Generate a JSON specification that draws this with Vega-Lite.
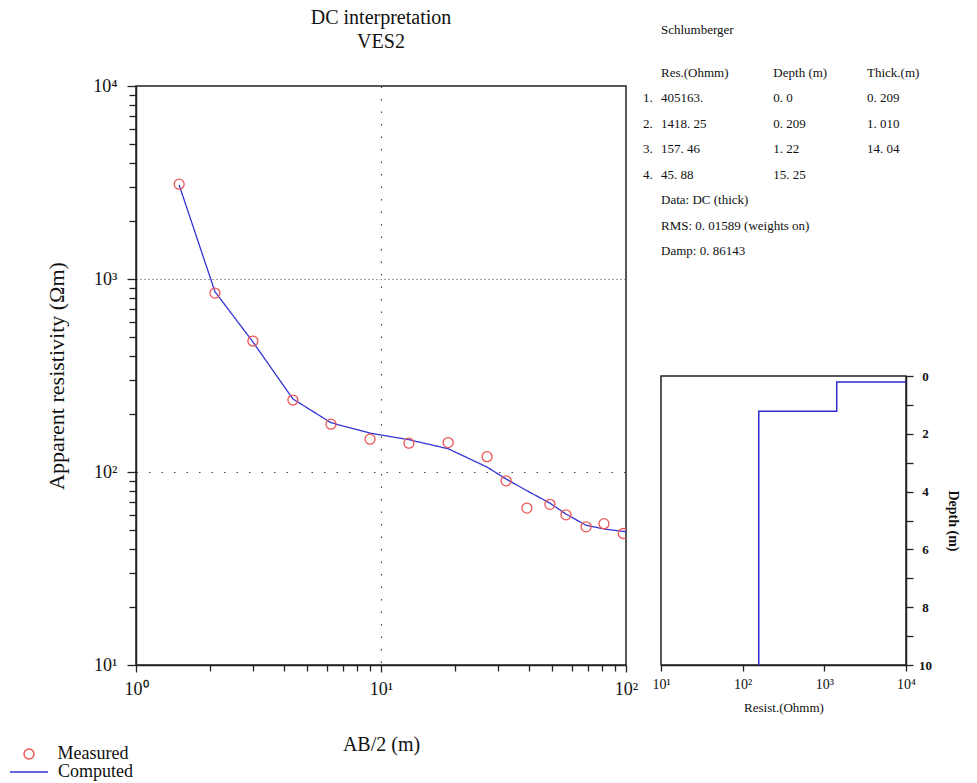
{
  "$schema": "https://vega.github.io/schema/vega-lite/v6.json",
  "padding": {"left": 8, "top": 6, "right": 0, "bottom": 0},
  "background": "white",
  "config": {
    "font": "Liberation Serif",
    "view": {"stroke": "#222", "strokeWidth": 1.5},
    "axis": {"domainColor": "#222", "domainWidth": 1.5, "tickColor": "#222", "tickWidth": 1.3, "labelColor": "#111", "titleColor": "#111", "labelFont": "Liberation Serif", "titleFont": "Liberation Serif", "titleFontWeight": "normal", "labelOverlap": false, "labelFlush": false}
  },
  "resolve": {"scale": {"shape": "independent", "strokeDash": "independent"}, "legend": {"shape": "independent", "strokeDash": "independent"}},
  "spacing": 4,
  "hconcat": [
    {
      "spacing": 22,
      "resolve": {"scale": {"shape": "independent", "strokeDash": "independent"}, "legend": {"shape": "independent", "strokeDash": "independent"}},
      "vconcat": [
        {
          "width": 490,
          "height": 48,
          "view": {"stroke": null},
          "data": {"values": [{"line": "DC interpretation"}, {"line": "VES2"}]},
          "mark": {"type": "text", "fontSize": 20, "align": "center", "baseline": "middle", "color": "#111"},
          "encoding": {
            "y": {"field": "line", "type": "nominal", "sort": null, "scale": {"type": "point", "padding": 0.5}, "axis": null},
            "text": {"field": "line"}
          }
        },
        {
          "width": 490,
          "height": 579,
          "resolve": {"scale": {"shape": "independent", "strokeDash": "independent"}, "legend": {"shape": "independent", "strokeDash": "independent"}},
          "data": {"values": [
            {"series": "Measured", "ab2": 1.5, "rho": 3100},
            {"series": "Measured", "ab2": 2.1, "rho": 845},
            {"series": "Measured", "ab2": 3.0, "rho": 477},
            {"series": "Measured", "ab2": 4.37, "rho": 236},
            {"series": "Measured", "ab2": 6.25, "rho": 177},
            {"series": "Measured", "ab2": 9.02, "rho": 148},
            {"series": "Measured", "ab2": 13.0, "rho": 141},
            {"series": "Measured", "ab2": 18.8, "rho": 142},
            {"series": "Measured", "ab2": 27.1, "rho": 120},
            {"series": "Measured", "ab2": 32.4, "rho": 90},
            {"series": "Measured", "ab2": 39.4, "rho": 65},
            {"series": "Measured", "ab2": 48.9, "rho": 68},
            {"series": "Measured", "ab2": 56.9, "rho": 60},
            {"series": "Measured", "ab2": 68.7, "rho": 52},
            {"series": "Measured", "ab2": 81.3, "rho": 54},
            {"series": "Measured", "ab2": 97.5, "rho": 48},
            {"series": "Computed", "ab2": 1.5, "rho": 3070},
            {"series": "Computed", "ab2": 2.1, "rho": 860},
            {"series": "Computed", "ab2": 3.0, "rho": 472},
            {"series": "Computed", "ab2": 4.37, "rho": 239},
            {"series": "Computed", "ab2": 6.25, "rho": 180},
            {"series": "Computed", "ab2": 9.02, "rho": 159},
            {"series": "Computed", "ab2": 13.0, "rho": 147},
            {"series": "Computed", "ab2": 18.8, "rho": 132},
            {"series": "Computed", "ab2": 27.1, "rho": 106},
            {"series": "Computed", "ab2": 32.4, "rho": 92},
            {"series": "Computed", "ab2": 39.4, "rho": 80},
            {"series": "Computed", "ab2": 48.9, "rho": 69},
            {"series": "Computed", "ab2": 56.9, "rho": 60.5},
            {"series": "Computed", "ab2": 68.7, "rho": 53},
            {"series": "Computed", "ab2": 81.3, "rho": 50.7},
            {"series": "Computed", "ab2": 100, "rho": 49}
          ]},
          "encoding": {
            "x": {
              "field": "ab2", "type": "quantitative",
              "scale": {"type": "log", "domain": [1, 100], "nice": false},
              "axis": {
                "values": [1, 2, 3, 4, 5, 6, 7, 8, 9, 10, 20, 30, 40, 50, 60, 70, 80, 90, 100],
                "labelExpr": "datum.value==1?'10⁰':datum.value==10?'10¹':datum.value==100?'10²':''",
                "title": "AB/2 (m)", "titleFontSize": 20, "titlePadding": 36,
                "labelFontSize": 18, "labelPadding": 8,
                "tickSize": {"condition": {"test": "datum.value==1||datum.value==10||datum.value==100", "value": 7}, "value": 6},
                "grid": true, "gridColor": "#444", "gridWidth": 1.2,
                "gridOpacity": {"condition": {"test": "datum.value==10", "value": 1}, "value": 0},
                "gridDash": [1.5, 11]
              }
            },
            "y": {
              "field": "rho", "type": "quantitative",
              "scale": {"type": "log", "domain": [10, 10000], "nice": false},
              "axis": {
                "values": [10, 20, 30, 40, 50, 60, 70, 80, 90, 100, 200, 300, 400, 500, 600, 700, 800, 900, 1000, 2000, 3000, 4000, 5000, 6000, 7000, 8000, 9000, 10000],
                "labelExpr": "datum.value==10?'10¹':datum.value==100?'10²':datum.value==1000?'10³':datum.value==10000?'10⁴':''",
                "title": "Apparent resistivity (Ωm)", "titleFontSize": 22, "titlePadding": 24,
                "labelFontSize": 18, "labelPadding": 10,
                "tickSize": {"condition": {"test": "datum.value==10||datum.value==100||datum.value==1000||datum.value==10000", "value": 9}, "value": 7},
                "grid": true, "gridColor": "#444", "gridWidth": 1.2,
                "gridOpacity": {"condition": {"test": "datum.value==100||datum.value==1000", "value": 1}, "value": 0},
                "gridDash": {"condition": {"test": "datum.value==1000", "value": [1, 3]}, "value": [1.5, 11]}
              }
            }
          },
          "layer": [
            {
              "transform": [{"filter": "datum.series=='Computed'"}],
              "mark": {"type": "line", "strokeWidth": 1.3, "color": "#3434d4", "clip": true},
              "encoding": {
                "strokeDash": {"field": "series", "type": "nominal", "scale": {"domain": ["Computed"], "range": [[1, 0]]},
                  "legend": {"title": null, "orient": "none", "legendX": -127, "legendY": 666, "labelFontSize": 18, "labelFont": "Liberation Serif", "labelColor": "#111", "labelOffset": 9, "padding": 0, "symbolType": "stroke", "symbolSize": 1444, "symbolStrokeWidth": 1.5, "symbolStrokeColor": "#3434d4", "symbolDash": [1, 0]}}
              }
            },
            {
              "transform": [{"filter": "datum.series=='Measured'"}],
              "mark": {"type": "point", "filled": false, "strokeWidth": 1.3, "size": 100, "opacity": 1, "color": "#ee5555", "clip": true},
              "encoding": {
                "shape": {"field": "series", "type": "nominal", "scale": {"domain": ["Measured"], "range": ["circle"]},
                  "legend": {"title": null, "orient": "none", "legendX": -116, "legendY": 659, "labelFontSize": 18, "labelFont": "Liberation Serif", "labelColor": "#111", "labelOffset": 19.5, "padding": 0, "symbolSize": 100, "symbolStrokeWidth": 1.5, "symbolStrokeColor": "#ee5555", "symbolFillColor": "transparent"}}
              }
            }
          ]
        }
      ]
    },
    {
      "spacing": 110,
      "vconcat": [
        {
          "width": 206,
          "height": 246.5,
          "view": {"stroke": null},
          "data": {"values": [
            {"line": "L0", "col": "c1", "kind": "text", "text": "Schlumberger"},
            {"line": "L1", "col": "c1", "kind": "text", "text": "Res.(Ohmm)"},
            {"line": "L1", "col": "c2", "kind": "text", "text": "Depth (m)"},
            {"line": "L1", "col": "c3", "kind": "text", "text": "Thick.(m)"},
            {"line": "L2", "col": "c1", "kind": "num", "text": "1."},
            {"line": "L2", "col": "c1", "kind": "text", "text": "405163."},
            {"line": "L2", "col": "c2", "kind": "text", "text": "0. 0"},
            {"line": "L2", "col": "c3", "kind": "text", "text": "0. 209"},
            {"line": "L3", "col": "c1", "kind": "num", "text": "2."},
            {"line": "L3", "col": "c1", "kind": "text", "text": "1418. 25"},
            {"line": "L3", "col": "c2", "kind": "text", "text": "0. 209"},
            {"line": "L3", "col": "c3", "kind": "text", "text": "1. 010"},
            {"line": "L4", "col": "c1", "kind": "num", "text": "3."},
            {"line": "L4", "col": "c1", "kind": "text", "text": "157. 46"},
            {"line": "L4", "col": "c2", "kind": "text", "text": "1. 22"},
            {"line": "L4", "col": "c3", "kind": "text", "text": "14. 04"},
            {"line": "L5", "col": "c1", "kind": "num", "text": "4."},
            {"line": "L5", "col": "c1", "kind": "text", "text": "45. 88"},
            {"line": "L5", "col": "c2", "kind": "text", "text": "15. 25"},
            {"line": "L6", "col": "c1", "kind": "text", "text": "Data: DC (thick)"},
            {"line": "L7", "col": "c1", "kind": "text", "text": "RMS: 0. 01589 (weights on)"},
            {"line": "L8", "col": "c1", "kind": "text", "text": "Damp: 0. 86143"}
          ]},
          "encoding": {
            "x": {"field": "col", "type": "nominal", "axis": null,
              "scale": {"type": "point", "padding": 0, "align": 0, "domain": ["c1", "s1", "s2", "s3", "s4", "s5", "c2", "s7", "s8", "s9", "s10", "c3"]}},
            "y": {"field": "line", "type": "nominal", "axis": null,
              "scale": {"type": "point", "padding": 1, "align": 0.912, "domain": ["g00", "L0", "g1", "g2", "g3", "g4", "L1", "g6", "g7", "L2", "g9", "g10", "L3", "g12", "g13", "L4", "g15", "g16", "L5", "g18", "g19", "L6", "g21", "g22", "L7", "g24", "g25", "L8"]}},
            "text": {"field": "text"}
          },
          "layer": [
            {
              "transform": [{"filter": "datum.kind=='text'"}],
              "mark": {"type": "text", "align": "left", "baseline": "middle", "fontSize": 13, "color": "#111"}
            },
            {
              "transform": [{"filter": "datum.kind=='num'"}],
              "mark": {"type": "text", "align": "left", "baseline": "middle", "fontSize": 13, "color": "#111", "dx": -18}
            }
          ]
        },
        {
          "width": 245,
          "height": 289,
          "data": {"values": [
            {"layer": 1, "res": 405163, "top": 0},
            {"layer": 2, "res": 1418.25, "top": 0.209},
            {"layer": 3, "res": 157.46, "top": 1.22},
            {"layer": 4, "res": 45.88, "top": 15.25}
          ]},
          "mark": {"type": "line", "interpolate": "step-before", "clip": true, "color": "#2a2ad0", "strokeWidth": 1.5},
          "encoding": {
            "x": {"field": "res", "type": "quantitative",
              "scale": {"type": "log", "domain": [10, 10000], "nice": false},
              "axis": {"values": [10, 100, 1000, 10000],
                "labelExpr": "datum.value==10?'10¹':datum.value==100?'10²':datum.value==1000?'10³':'10⁴'",
                "title": "Resist.(Ohmm)", "titleFontSize": 13, "titlePadding": 10,
                "labelFontSize": 14, "labelPadding": 6, "tickSize": 6, "grid": false}},
            "y": {"field": "top", "type": "quantitative",
              "scale": {"domain": [0, 10], "reverse": true, "nice": false, "zero": false},
              "axis": {"orient": "right", "values": [0, 1, 2, 3, 4, 5, 6, 7, 8, 9, 10],
                "labelExpr": "datum.value%2==0?datum.label:''",
                "title": "Depth (m)", "titleAngle": 90, "titleFontSize": 14, "titleFontWeight": "bold", "titlePadding": 14,
                "labelFontSize": 13, "labelFontWeight": "bold", "labelPadding": 12, "labelAlign": "center", "tickSize": 7, "grid": false}},
            "order": {"field": "layer", "type": "quantitative"}
          }
        }
      ]
    }
  ]
}
